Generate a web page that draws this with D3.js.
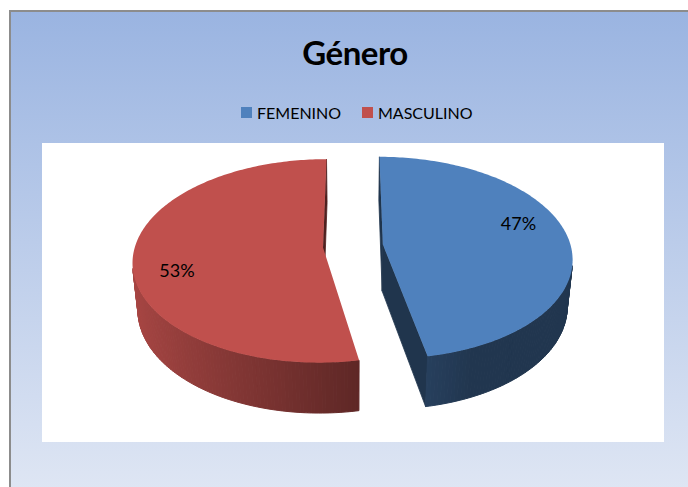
<html>
<head>
<meta charset="utf-8">
<title>Género</title>
<script src="https://cdn.jsdelivr.net/npm/d3@7"></script>
<style>
body { margin: 0; background: #fff; }
svg { display: block; }
text { font-family: Lato, 'Open Sans', sans-serif; }
</style>
</head>
<body>
<div id="chart"></div>
<script>

// data
var categories = ["FEMENINO", "MASCULINO"];
var values = [47, 53];
var colors = ["#4f81bd", "#c0504d"];

var W = 688, H = 487;

var svg = d3.select("#chart").append("svg")
  .attr("width", W)
  .attr("height", H);

var defs = svg.append("defs");
var grad = defs.append("linearGradient")
  .attr("id", "bg").attr("x1", 0).attr("y1", 0).attr("x2", 0).attr("y2", 1);
grad.append("stop").attr("offset", "0%").attr("stop-color", "#9ab4e1");
grad.append("stop").attr("offset", "100%").attr("stop-color", "#e0e7f4");

// chart frame
svg.append("rect")
  .attr("x", 10).attr("y", 11)
  .attr("width", 700).attr("height", 490)
  .attr("fill", "url(#bg)")
  .attr("stroke", "#8c8c8c")
  .attr("stroke-width", 2);

// plot area
svg.append("rect")
  .attr("x", 42).attr("y", 143)
  .attr("width", 622).attr("height", 299)
  .attr("fill", "#fff");

// title
svg.append("text")
  .attr("x", 355).attr("y", 65)
  .attr("text-anchor", "middle")
  .attr("font-size", 33)
  .attr("font-weight", "bold")
  .attr("letter-spacing", -0.5)
  .attr("fill", "#000")
  .text("Género");

// legend
var legendX = [241, 362];
var lg = svg.selectAll(".legend")
  .data(categories)
  .enter().append("g")
  .attr("class", "legend")
  .attr("transform", function(d, i) { return "translate(" + legendX[i] + ",107)"; });
lg.append("rect")
  .attr("width", 11).attr("height", 11)
  .attr("fill", function(d, i) { return colors[i]; });
lg.append("text")
  .attr("x", 16).attr("y", 11.5)
  .attr("font-size", 16)
  .attr("fill", "#000")
  .text(function(d) { return d; });

//////////////////////////////////////////////////////////////
// 3D exploded pie, simple perspective projection
//////////////////////////////////////////////////////////////

var cx = 353, cy = 246;          // screen position of pie centre
var tilt = 32 * Math.PI / 180;   // elevation of the viewer
var D = 6.45;                    // camera distance (radius units)
var F = 1212;                    // focal length in px
var thick = 0.3;                 // pie thickness (radius units)
var explode = 0.16;              // explosion distance
var sinP = Math.sin(tilt), cosP = Math.cos(tilt);
var cam = [0, -D * cosP, D * sinP];

function project(u, v, h) {
  var yc = v * sinP + h * cosP;
  var zc = D + v * cosP - h * sinP;
  return [cx + F * u / zc, cy - F * yc / zc];
}

function shade(col, k) {
  var c = d3.rgb(col);
  return d3.rgb(c.r * k, c.g * k, c.b * k).toString();
}

var pie = d3.pie().sort(null).value(function(d) { return d; });
var arcs = pie(values);

var g = svg.append("g").attr("class", "pie");
var step = Math.PI / 180;

arcs.forEach(function(d, i) {
  var mid = (d.startAngle + d.endAngle) / 2;
  var eu = explode * Math.sin(mid), ev = explode * Math.cos(mid);
  var rim = function(a, h) { return project(eu + Math.sin(a), ev + Math.cos(a), h); };
  var apex = function(h) { return project(eu, ev, h); };
  var sides = g.append("g");

  // radial cut faces
  [[d.startAngle, -1], [d.endAngle, 1]].forEach(function(f) {
    var a = f[0];
    var n = f[1] < 0 ? [-Math.cos(a), Math.sin(a)] : [Math.cos(a), -Math.sin(a)];
    var dot = n[0] * (cam[0] - eu) + n[1] * (cam[1] - ev);
    if (dot <= 0) return;
    var pts = [apex(0), rim(a, 0), rim(a, -thick), apex(-thick)];
    sides.append("path")
      .attr("d", "M" + pts.join("L") + "Z")
      .attr("fill", shade(colors[i], 0.41))
      .attr("stroke", shade(colors[i], 0.41))
      .attr("stroke-width", 0.8);
  });

  // outer wall, in thin strips so it can be shaded
  for (var a = d.startAngle; a < d.endAngle - 1e-9; a += step) {
    var b = Math.min(a + step, d.endAngle);
    var m = (a + b) / 2;
    var nu = Math.sin(m), nv = Math.cos(m);
    var px = eu + nu, py = ev + nv;
    var dot = nu * (cam[0] - px) + nv * (cam[1] - py);
    if (dot <= 0) continue;
    var t = (1 - nu) / 2;
    var k = 0.42 + 0.46 * Math.max(0, (t - 0.3) / 0.7);
    var pts = [rim(a, 0), rim(b, 0), rim(b, -thick), rim(a, -thick)];
    sides.append("path")
      .attr("d", "M" + pts.join("L") + "Z")
      .attr("fill", shade(colors[i], k))
      .attr("stroke", shade(colors[i], k))
      .attr("stroke-width", 1);
  }

  // top face
  var top = [apex(0)];
  for (var a = d.startAngle; a < d.endAngle; a += step) top.push(rim(a, 0));
  top.push(rim(d.endAngle, 0));
  g.append("path")
    .attr("d", "M" + top.join("L") + "Z")
    .attr("fill", colors[i]);
});

// percentage labels
g.selectAll(".pct")
  .data(arcs)
  .enter().append("text")
  .attr("class", "pct")
  .attr("text-anchor", "middle")
  .attr("font-size", 18)
  .attr("fill", "#000")
  .attr("transform", function(d) {
    var mid = (d.startAngle + d.endAngle) / 2;
    var la = mid - 11 * Math.PI / 180;
    var p = project(explode * Math.sin(mid) + 0.78 * Math.sin(la),
                    explode * Math.cos(mid) + 0.78 * Math.cos(la), 0);
    return "translate(" + p[0] + "," + (p[1] + 6.5) + ")";
  })
  .text(function(d) { return Math.round((d.endAngle - d.startAngle) / (2 * Math.PI) * 100) + "%"; });

</script>
</body>
</html>
